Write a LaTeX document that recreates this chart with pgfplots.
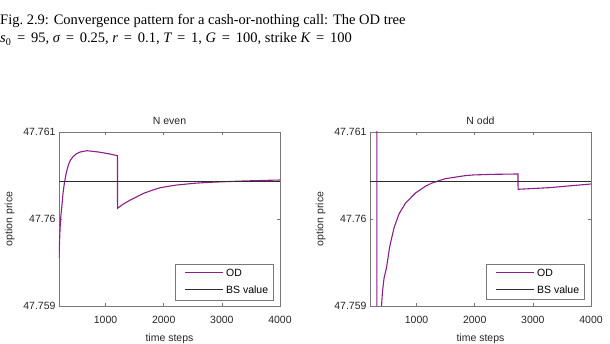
\documentclass[border=0pt]{standalone}
\usepackage{fontspec}
\setmainfont{Liberation Serif}
\setsansfont{Liberation Sans}
\usepackage{pgfplots}
\pgfplotsset{compat=1.18}
\usepackage{pgfplotstable}
\definecolor{odpurple}{RGB}{140,30,140}
\definecolor{bsline}{RGB}{45,45,45}
\definecolor{frame}{RGB}{120,120,120}
\definecolor{txt}{RGB}{38,38,38}
% option prices stored as (price - 47.759) * 1000, i.e. in units of 0.001 above 47.759
\pgfplotstableread{
t y
200 0.552
210 0.75
219 0.897
230 1.02
248 1.14
270 1.30
293 1.414
325 1.53
362 1.624
400 1.68
448 1.721
500 1.75
564 1.770
679 1.785
879 1.770
1052 1.750
1205 1.728
1207 1.123
1300 1.17
1426 1.218
1550 1.26
1655 1.295
1800 1.33
1943 1.360
2100 1.378
2231 1.391
2400 1.402
2517 1.410
2650 1.416
2805 1.422
3100 1.430
3379 1.437
3700 1.443
4000 1.448
}\odeven
\pgfplotstableread{
t y
317 20
319 -20
398 0
415 0.169
442 0.322
483 0.437
540 0.686
613 0.897
698 1.057
812 1.184
983 1.299
1153 1.376
1268 1.414
1494 1.463
1835 1.498
1977 1.506
2300 1.513
2744 1.517
2746 1.341
3285 1.360
4000 1.402
}\ododd
\pgfplotstableread{
t y
200 1.429
4000 1.429
}\bseven
\newcommand{\eq}{\hspace{0.4em}=\hspace{0.4em}}
\pgfplotsset{
  legend image code/.code={\path (-6pt,0pt); \draw[#1] (0pt,0.5pt) -- (38pt,0.5pt);},
  myaxis/.style={
    scale only axis, width=221pt, height=174pt,
    anchor=south west,
    xmin=200, xmax=4000, ymin=0, ymax=2,
    xtick={1000,2000,3000,4000}, xticklabels={1000,2000,3000,4000},
    ytick={0,1,2}, yticklabels={47.759,47.76,47.761},
    tick align=inside, major tick length=3pt,
    axis line style={frame, line width=0.6pt},
    tick style={frame, line width=0.5pt},
    font=\sffamily\fontsize{10.5}{12}\selectfont,
    tick label style={txt},
    xticklabel style={yshift=-7pt},
    label style={txt},
    title style={txt, yshift=-2pt},
    xlabel={time steps}, ylabel={option price},
    xlabel style={yshift=-3pt},
    ylabel style={yshift=2pt},
    legend style={at={(rel axis cs:0.97,0.035)}, anchor=south east, draw=frame,
      font=\sffamily\fontsize{10.5}{12}\selectfont,
      cells={anchor=west}, row sep=4pt, inner xsep=3pt, inner ysep=3pt},
  }
}
\begin{document}
\begin{tikzpicture}
\path[use as bounding box] (0,0) rectangle (610pt,344pt);
\node[anchor=base west, inner sep=0pt, font=\fontsize{14.5}{17}\selectfont] at (0pt,319pt) {Fig.~2.9: Convergence pattern for a cash-or-nothing call: The OD tree};
\node[anchor=base west, inner sep=0pt, font=\fontsize{14.5}{17}\selectfont] at (0pt,301pt) {{\itshape s}\textsubscript{0}\eq 95, {\itshape σ}\eq 0.25, {\itshape r}\eq 0.1, {\itshape T}\eq 1, {\itshape G}\eq 100, strike {\itshape K}\eq 100};
\begin{axis}[myaxis, at={(59pt,38pt)}, title={N even}]
\addplot[odpurple, line width=1.1pt] table[x=t,y=y] {\odeven};
\addlegendentry{OD}
\addplot[bsline, line width=1.6pt] table[x=t,y=y] {\bseven};
\addlegendentry{BS value}
\end{axis}
\begin{axis}[myaxis, at={(370pt,38pt)}, title={N odd}]
\addplot[odpurple, line width=1.1pt] table[x=t,y=y] {\ododd};
\addlegendentry{OD}
\addplot[bsline, line width=1.6pt] table[x=t,y=y] {\bseven};
\addlegendentry{BS value}
\end{axis}
\end{tikzpicture}
\end{document}
